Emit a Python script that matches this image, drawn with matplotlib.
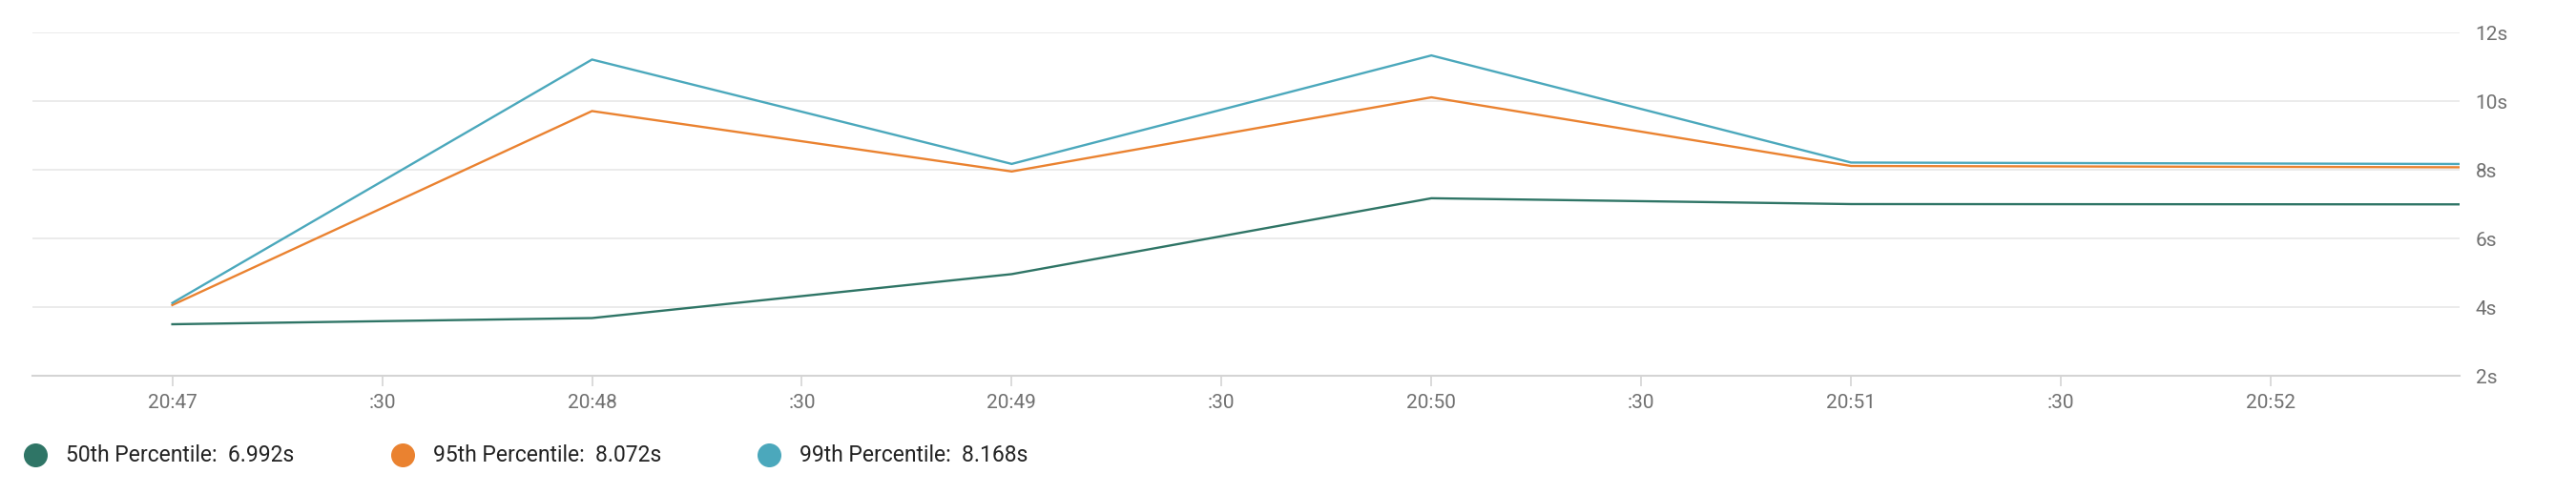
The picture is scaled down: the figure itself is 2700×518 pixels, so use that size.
import datetime as dt

import matplotlib

matplotlib.use("Agg")
import matplotlib.dates as mdates
import matplotlib.pyplot as plt
from matplotlib.lines import Line2D
from matplotlib.ticker import FuncFormatter

# sample times (hh, mm, ss) and latency percentiles in seconds
TIMES = [(20, 47, 0), (20, 48, 0), (20, 49, 0), (20, 50, 0), (20, 51, 0), (20, 52, 27)]
P50 = [3.50, 3.68, 4.96, 7.17, 7.00, 6.992]
P95 = [4.06, 9.71, 7.95, 10.11, 8.11, 8.072]
P99 = [4.12, 11.21, 8.17, 11.33, 8.21, 8.168]
SERIES_NAMES = ["50th Percentile", "95th Percentile", "99th Percentile"]
COLORS = ["#2f7566", "#ea8230", "#4ba8bc"]
X_START = (20, 46, 40)
Y_TICKS = [2, 4, 6, 8, 10, 12]

plt.rcParams["font.family"] = ["Roboto", "DejaVu Sans"]


def _t(hms):
    return dt.datetime(2024, 1, 1, *hms)


def _fmt_time(x, pos):
    d = mdates.num2date(x)
    if d.second >= 29:
        return ":30"
    return d.strftime("%H:%M")


fig = plt.figure(figsize=(27, 5.18), dpi=100)
ax = fig.add_axes([34 / 2700, 1 - 394 / 518, (2578 - 34) / 2700, (394 - 34) / 518])

xs = [_t(t) for t in TIMES]
for vals, name, color in zip([P50, P95, P99], SERIES_NAMES, COLORS):
    ax.plot(xs, vals, color=color, linewidth=1.7, solid_joinstyle="miter", zorder=3)

ax.set_xlim(_t(X_START), xs[-1])
ax.set_ylim(2, 12)
ax.set_yticks(Y_TICKS)
ax.yaxis.set_major_formatter(FuncFormatter(lambda v, p: f"{v:g}s"))
ax.yaxis.tick_right()
ax.tick_params(axis="y", length=0, pad=12, labelsize=15, labelcolor="#707070")

ax.xaxis.set_major_locator(mdates.SecondLocator(bysecond=[0, 30]))
ax.xaxis.set_major_formatter(FuncFormatter(_fmt_time))
ax.tick_params(axis="x", length=8, width=1.2, color="#d4d4d4", pad=6,
               labelsize=15, labelcolor="#707070")

for s in ["top", "left", "right"]:
    ax.spines[s].set_visible(False)
ax.spines["bottom"].set_color("#d4d4d4")
ax.spines["bottom"].set_linewidth(1.5)
ax.grid(True, axis="y", color="#ebebeb", linewidth=1.4, zorder=0)
ax.set_axisbelow(True)

# legend row under the plot, value shown is the latest sample
legend_x = [37, 422, 806]
legend_y = 1 - 477 / 518
for x0, vals, name, color in zip(legend_x, [P50, P95, P99], SERIES_NAMES, COLORS):
    fig.add_artist(Line2D([x0 / 2700], [legend_y], marker="o", markersize=17,
                          color=color, linestyle="none", transform=fig.transFigure))
    fig.text((x0 + 32) / 2700, legend_y, f"{name}:  {vals[-1]:.3f}s",
             fontsize=16.5, color="#222222", va="center", ha="left")

fig.savefig("out.png")
